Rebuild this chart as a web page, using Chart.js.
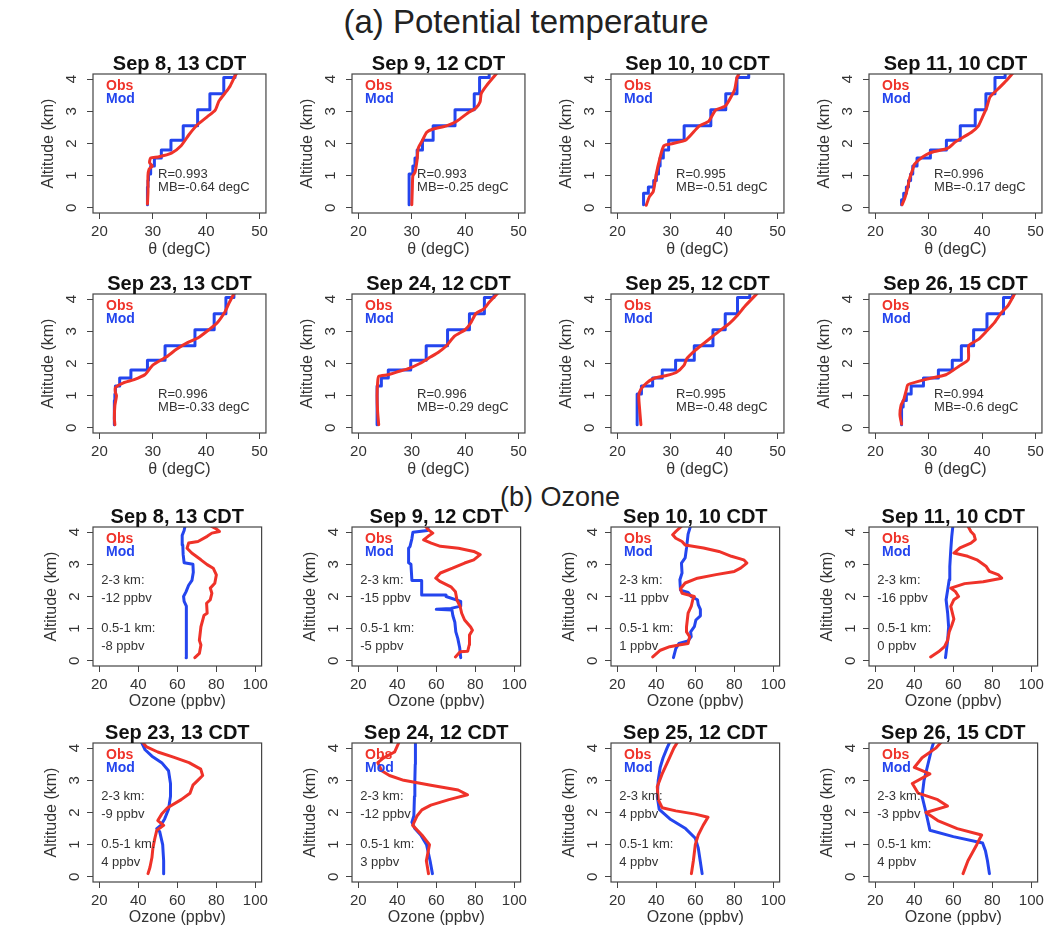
<!DOCTYPE html>
<html>
<head>
<meta charset="utf-8">
<script src="https://cdn.jsdelivr.net/npm/chart.js@4.4.0/dist/chart.umd.min.js"></script>
<style>
  body { margin: 0; background: #fff; }
  #page { position: relative; width: 1049px; height: 927px; overflow: hidden; font-family: "Liberation Sans", Arial, sans-serif; }
  .sect { position: absolute; color: #222; white-space: nowrap; transform: translate(-50%, -50%); }
  canvas { position: absolute; }
</style>
</head>
<body>
<div id="page">
  <div class="sect" style="left:526px; top:22px; font-size:33px">(a) Potential temperature</div>
  <div class="sect" style="left:560px; top:497px; font-size:27px">(b) Ozone</div>
</div>
<script>
// axis ticks
const thetaTicks = [20, 30, 40, 50];
const ozoneTicks = [20, 40, 60, 80, 100];
const altTicks = [0, 1, 2, 3, 4];

// model layer edges (km) for the theta profiles, last one is above the plot top
const modelEdges = [0.1, 0.25, 0.45, 0.65, 0.85, 1.05, 1.3, 1.55, 1.8, 2.1, 2.55, 3.05, 3.55, 4.05, 4.3];

// panel titles
const thetaTitles = ["Sep 8, 13 CDT", "Sep 9, 12 CDT", "Sep 10, 10 CDT", "Sep 11, 10 CDT",
                     "Sep 23, 13 CDT", "Sep 24, 12 CDT", "Sep 25, 12 CDT", "Sep 26, 15 CDT"];
const ozoneTitles = thetaTitles;

// theta stats text
const thetaR = ["R=0.993", "R=0.993", "R=0.995", "R=0.996", "R=0.996", "R=0.996", "R=0.995", "R=0.994"];
const thetaMB = ["MB=-0.64 degC", "MB=-0.25 degC", "MB=-0.51 degC", "MB=-0.17 degC",
                 "MB=-0.33 degC", "MB=-0.29 degC", "MB=-0.48 degC", "MB=-0.6 degC"];

// ozone layer biases
const ozBias23 = ["-12 ppbv", "-15 ppbv", "-11 ppbv", "-16 ppbv", "-9 ppbv", "-12 ppbv", "4 ppbv", "-3 ppbv"];
const ozBias051 = ["-8 ppbv", "-5 ppbv", "1 ppbv", "0 ppbv", "4 ppbv", "3 ppbv", "4 ppbv", "4 ppbv"];

// theta obs profiles [degC, km]
const thObs08 = [[29.0,0.12],[29.1,0.5],[29.1,1.0],[29.3,1.2],[29.9,1.3],[29.4,1.4],[29.6,1.55],[31.0,1.58],[33.5,1.7],[35.3,1.93],[36.8,2.28],[38.4,2.59],[40.2,2.83],[41.7,3.04],[42.4,3.32],[43.6,3.58],[44.5,3.79],[45.4,4.1],[45.8,4.2]];
const thObs09 = [[30.0,0.1],[30.1,0.6],[30.2,1.0],[30.6,1.1],[31.0,1.5],[31.2,1.85],[32.0,2.1],[32.8,2.35],[34.0,2.45],[36.5,2.55],[38.5,2.7],[40.5,2.95],[42.0,3.1],[42.8,3.3],[43.0,3.55],[44.0,3.8],[45.6,4.12],[46.0,4.2]];
const thObs10 = [[25.4,0.08],[26.0,0.35],[26.7,0.5],[27.3,1.07],[27.9,1.5],[28.7,1.93],[30.4,2.0],[32.9,2.12],[35.3,2.54],[37.1,2.69],[38.4,3.04],[40.2,3.16],[41.4,3.48],[42.0,3.7],[42.4,4.05],[42.9,4.2]];
const thObs11 = [[25.0,0.1],[25.5,0.3],[26.0,0.6],[26.4,0.9],[27.0,1.2],[27.3,1.35],[28.2,1.5],[29.5,1.65],[31.0,1.75],[33.5,1.85],[35.0,2.05],[36.5,2.2],[38.0,2.35],[39.3,2.55],[40.0,2.8],[40.8,3.1],[41.5,3.45],[43.0,3.7],[44.5,3.95],[45.8,4.2]];
const thObs23 = [[22.9,0.1],[22.8,0.3],[22.9,0.7],[23.2,1.0],[23.0,1.1],[23.0,1.25],[24.5,1.4],[26.5,1.5],[28.5,1.65],[30.0,1.95],[32.5,2.2],[34.5,2.45],[36.5,2.65],[38.5,2.8],[40.5,3.05],[42.0,3.25],[43.5,3.6],[44.2,3.85],[45.3,4.2]];
const thObs24 = [[23.8,0.1],[23.6,0.5],[23.5,1.0],[23.6,1.4],[23.8,1.6],[25.5,1.65],[27.5,1.75],[29.5,1.85],[31.5,2.0],[33.5,2.2],[35.0,2.35],[36.5,2.55],[38.0,2.85],[40.0,3.05],[41.0,3.25],[42.0,3.55],[43.5,3.7],[44.5,3.9],[46.2,4.2]];
const thObs25 = [[24.4,0.1],[24.2,0.5],[24.0,1.0],[24.4,1.2],[25.5,1.4],[27.0,1.55],[29.0,1.62],[31.0,1.72],[32.5,1.95],[33.0,2.15],[34.5,2.4],[36.0,2.6],[37.5,2.8],[39.0,3.0],[41.0,3.25],[42.5,3.5],[44.0,3.8],[46.3,4.2]];
const thObs26 = [[24.9,0.12],[24.6,0.4],[24.8,0.7],[25.3,0.87],[25.8,1.18],[26.1,1.34],[29.5,1.51],[33.2,1.65],[35.6,1.91],[37.4,2.12],[37.5,2.56],[39.3,2.75],[40.8,3.0],[42.3,3.27],[43.6,3.58],[44.8,3.79],[46.2,4.2]];

// theta model layer values (one per layer of modelEdges)
const thMod08 = [29.0, 29.0, 29.0, 29.1, 29.2, 29.6, 30.3, 31.6, 33.4, 35.7, 38.4, 40.7, 43.3, 45.4];
const thMod09 = [29.5, 29.5, 29.5, 29.5, 29.5, 30.2, 30.6, 31.0, 32.0, 34.0, 38.1, 41.7, 42.7, 44.5];
const thMod10 = [24.9, 24.9, 25.8, 26.8, 27.3, 27.7, 28.0, 28.6, 29.6, 32.5, 37.5, 40.3, 42.4, 44.6];
const thMod11 = [24.9, 25.3, 25.8, 26.2, 26.6, 27.0, 27.8, 30.3, 33.3, 35.9, 38.7, 40.7, 42.4, 44.3];
const thMod23 = [22.8, 22.8, 22.8, 22.8, 22.9, 23.0, 23.8, 25.9, 29.0, 32.3, 37.9, 41.5, 43.7, 45.2];
const thMod24 = [23.5, 23.5, 23.5, 23.5, 23.5, 23.5, 24.3, 25.6, 29.8, 32.7, 36.7, 40.8, 43.6, 45.4];
const thMod25 = [23.7, 23.7, 23.7, 23.7, 23.7, 24.5, 26.6, 28.4, 30.9, 34.4, 37.9, 40.2, 42.5, 44.8];
const thMod26 = [24.9, 24.9, 24.9, 25.2, 25.8, 26.7, 29.0, 31.8, 34.4, 36.1, 38.4, 40.9, 44.0, 45.7];

// ozone obs profiles [ppbv, km]
const ozObs08 = [[69.0,0.1],[71.3,0.23],[72.1,0.49],[71.3,0.64],[72.1,1.06],[73.7,1.42],[75.3,1.48],[75.0,1.79],[76.9,1.9],[77.7,2.1],[76.9,2.26],[79.2,2.41],[80.0,2.67],[78.4,2.88],[75.3,2.99],[72.1,3.14],[67.4,3.35],[65.0,3.5],[65.8,3.66],[70.6,3.71],[75.3,3.87],[77.7,3.97],[81.6,4.02],[80.0,4.1],[76.9,4.2]];
const ozObs09 = [[69.8,0.12],[72.2,0.28],[76.1,0.3],[76.9,0.5],[77.0,0.8],[78.5,0.95],[77.6,1.05],[74.5,1.27],[73.0,1.48],[72.2,1.69],[70.6,1.89],[69.8,2.15],[67.5,2.3],[62.1,2.46],[59.7,2.57],[62.1,2.73],[68.3,2.88],[74.5,3.04],[79.2,3.14],[82.5,3.3],[79.2,3.4],[71.4,3.5],[62.1,3.56],[57.4,3.66],[53.5,3.76],[55.8,3.87],[58.2,3.97],[55.8,4.08],[54.3,4.2]];
const ozObs10 = [[38.2,0.12],[42.1,0.33],[46.9,0.44],[51.6,0.49],[56.3,0.54],[57.1,0.75],[55.5,0.9],[55.5,1.06],[56.3,1.48],[57.9,1.69],[58.7,1.9],[59.5,2.0],[53.2,2.1],[52.4,2.24],[54.8,2.42],[61.1,2.57],[70.6,2.68],[80.0,2.78],[83.2,2.88],[86.4,3.04],[84.8,3.14],[78.5,3.25],[72.1,3.4],[64.2,3.51],[54.8,3.6],[53.2,3.71],[50.0,3.81],[48.4,3.92],[50.0,4.02],[53.2,4.2]];
const ozObs11 = [[48.4,0.12],[52.4,0.28],[55.5,0.44],[57.1,0.64],[57.9,0.9],[59.2,1.1],[60.3,1.3],[58.7,1.69],[60.3,1.9],[62.7,2.0],[61.1,2.15],[58.7,2.26],[65.8,2.4],[75.3,2.46],[84.8,2.57],[83.2,2.67],[78.5,2.78],[76.9,2.93],[72.1,3.14],[67.4,3.25],[60.3,3.35],[63.4,3.51],[69.0,3.66],[71.3,3.77],[70.6,3.92],[69.0,4.02],[67.4,4.2]];
const ozObs23 = [[45.0,0.1],[46.0,0.3],[47.0,0.6],[47.5,0.9],[48.5,1.2],[49.5,1.45],[53.0,1.6],[50.0,1.75],[52.0,1.95],[55.0,2.15],[62.0,2.4],[66.5,2.6],[68.0,2.85],[70.5,3.0],[73.0,3.15],[72.0,3.35],[66.0,3.55],[58.0,3.72],[50.0,3.88],[44.0,4.05],[42.0,4.2]];
const ozObs24 = [[56.0,0.1],[54.9,0.5],[56.5,1.0],[52.6,1.3],[47.9,1.6],[50.2,1.9],[52.6,2.08],[57.2,2.23],[66.5,2.4],[76.0,2.55],[71.2,2.7],[57.2,2.85],[43.3,3.0],[36.0,3.15],[32.0,3.3],[30.0,3.55],[33.0,3.7],[38.6,3.88],[41.0,4.2]];
const ozObs25 = [[58.0,0.1],[59.0,0.5],[60.0,1.0],[61.5,1.3],[64.0,1.6],[66.5,1.85],[60.0,1.95],[50.0,2.05],[43.0,2.15],[41.0,2.4],[40.5,2.8],[43.0,3.2],[46.0,3.6],[49.0,4.0],[51.0,4.2]];
const ozObs26 = [[65,0.1],[67.5,0.5],[72,1.0],[74.5,1.3],[62,1.5],[52,1.75],[46,2.0],[57,2.2],[52,2.4],[42,2.6],[39,2.9],[48,3.2],[40,3.4],[44,3.7],[51,4.0],[54,4.2]];

// ozone model profiles [ppbv, km]
const ozMod08 = [[64.5,0.1],[64.6,0.6],[64.8,1.2],[64.5,1.7],[63.5,1.85],[63.2,2.0],[64.5,2.15],[65.8,2.35],[67.5,2.5],[68.2,2.75],[68.0,3.0],[63.5,3.05],[63.0,3.3],[62.8,3.6],[62.5,3.9],[63.5,4.05],[64.0,4.2]];
const ozMod09 = [[72.5,0.1],[72.0,0.4],[71.0,0.7],[70.0,0.9],[69.5,1.2],[68.5,1.4],[68.0,1.58],[60.0,1.6],[67.5,1.63],[72.5,1.7],[72.5,1.85],[65.0,2.0],[65.0,2.05],[52.5,2.05],[52.5,2.5],[47.5,2.5],[47.0,3.0],[45.8,3.05],[45.8,3.5],[46.5,3.55],[47.5,3.8],[48.0,4.0],[55.5,4.05],[56.0,4.2]];
const ozMod10 = [[48.8,0.1],[50.0,0.38],[51.6,0.54],[56.3,0.62],[57.9,0.75],[57.6,0.9],[59.5,1.06],[60.3,1.27],[62.6,1.4],[62.6,1.6],[61.5,1.75],[61.1,1.9],[57.9,2.0],[56.3,2.13],[52.4,2.2],[52.1,2.52],[53.2,2.73],[52.9,3.04],[54.8,3.2],[55.5,3.51],[56.3,3.94],[57.6,4.2]];
const ozMod11 = [[56.0,0.1],[57.1,0.64],[57.6,1.06],[57.1,1.48],[56.3,1.9],[57.1,2.2],[57.9,2.52],[58.2,2.93],[58.7,3.45],[59.2,3.87],[59.8,4.2]];
const ozMod23 = [[53.0,0.1],[53.0,0.5],[52.5,1.0],[51.0,1.4],[49.5,1.5],[51.5,1.6],[53.5,1.8],[55.5,2.1],[56.5,2.5],[56.5,2.9],[55.5,3.3],[52.0,3.55],[47.0,3.75],[43.5,3.95],[41.5,4.2]];
const ozMod24 = [[58.0,0.1],[56.8,0.5],[55.0,1.0],[52.0,1.3],[49.0,1.5],[47.5,1.7],[48.5,1.9],[48.8,2.5],[49.0,3.0],[49.2,3.5],[49.3,4.2]];
const ozMod25 = [[63.5,0.1],[62.5,0.5],[61.5,0.9],[60.0,1.2],[55.0,1.5],[47.0,1.8],[41.5,2.1],[40.5,2.5],[41.0,3.0],[42.0,3.4],[43.5,3.7],[45.5,4.0],[47.0,4.2]];
const ozMod26 = [[78.5,0.1],[77.5,0.5],[76.5,0.8],[75,1.05],[60,1.25],[48,1.45],[46,2.0],[44,2.5],[45,3.0],[47,3.5],[49,4.0],[50,4.2]];

const thetaObs = [thObs08, thObs09, thObs10, thObs11, thObs23, thObs24, thObs25, thObs26];
const thetaMod = [thMod08, thMod09, thMod10, thMod11, thMod23, thMod24, thMod25, thMod26];
const ozoneObs = [ozObs08, ozObs09, ozObs10, ozObs11, ozObs23, ozObs24, ozObs25, ozObs26];
const ozoneMod = [ozMod08, ozMod09, ozMod10, ozMod11, ozMod23, ozMod24, ozMod25, ozMod26];

// layout
const FAM = '"Liberation Sans", Arial, Helvetica, sans-serif';
const RED = '#ef3229';
const BLUE = '#2445ee';
const colLeft = [0, 259, 518, 776];
const rowTop = [45, 265, 498, 714];
const CW = 272, CH = 213;
const padL = 93, padR = 3, padT = 29, padB = 45;

const page = document.getElementById("page");

// draws box, rotated y labels, titles and in-plot text, R-style
const decor = {
  id: "decor",
  afterDraw(chart) {
    const o = chart.options.plugins.decor;
    const { ctx, chartArea: a, scales: { x, y } } = chart;
    ctx.save();
    ctx.strokeStyle = "#444";
    ctx.lineWidth = 1.2;
    ctx.strokeRect(a.left, a.top, a.right - a.left, a.bottom - a.top);

    ctx.fillStyle = "#333";
    ctx.font = "15px " + FAM;
    ctx.textAlign = "center";
    ctx.textBaseline = "middle";
    altTicks.forEach(v => {
      ctx.save();
      ctx.translate(a.left - o.tickOff, y.getPixelForValue(v));
      ctx.rotate(-Math.PI / 2);
      ctx.fillText(String(v), 0, 0);
      ctx.restore();
    });
    // axis titles
    ctx.font = "16px " + FAM;
    ctx.save();
    ctx.translate(a.left - o.titleOff, (a.top + a.bottom) / 2);
    ctx.rotate(-Math.PI / 2);
    ctx.fillText("Altitude (km)", 0, 0);
    ctx.restore();
    ctx.textBaseline = "alphabetic";
    ctx.fillText(o.xTitle, (a.left + a.right) / 2, a.bottom + o.xTitleOff);

    // panel title
    ctx.fillStyle = "#111";
    ctx.font = "bold 20px " + FAM;
    ctx.fillText(o.title, (a.left + a.right) / 2, a.top - 4);

    // legend
    ctx.textAlign = "left";
    ctx.font = "bold 14px " + FAM;
    ctx.fillStyle = RED;
    ctx.fillText("Obs", a.left + 13, a.top + 16);
    ctx.fillStyle = BLUE;
    ctx.fillText("Mod", a.left + 13, a.top + 29);

    // notes at data positions
    ctx.fillStyle = "#333";
    ctx.font = "13px " + FAM;
    ctx.textBaseline = "middle";
    o.notes.forEach(n => ctx.fillText(n[0], x.getPixelForValue(n[1]), y.getPixelForValue(n[2])));
    ctx.restore();
  }
};

function makePanel(row, col, cfg) {
  const cv = document.createElement("canvas");
  cv.width = CW;
  cv.height = CH;
  cv.style.left = colLeft[col] + "px";
  cv.style.top = rowTop[row] + "px";
  page.appendChild(cv);

  const tickGrid = { display: true, drawOnChartArea: false, drawTicks: true, tickLength: 6, color: "#444", tickColor: "#444" };

  new Chart(cv, {
    type: "line",
    data: {
      datasets: [{
        data: cfg.obs,
        borderColor: RED,
        borderWidth: 3,
        pointRadius: 0,
        tension: cfg.tension,
        borderJoinStyle: "round",
        borderCapStyle: "round",
        order: 0
      }, {
        data: cfg.mod,
        borderColor: BLUE,
        borderWidth: 3,
        pointRadius: 0,
        stepped: cfg.stepped,
        borderJoinStyle: "round",
        borderCapStyle: "round",
        order: 1
      }]
    },
    options: {
      responsive: false,
      animation: false,
      devicePixelRatio: 1,
      layout: { padding: { top: padT, right: padR, left: 0, bottom: 0 } },
      plugins: {
        legend: { display: false },
        tooltip: { enabled: false },
        decor: cfg.decor
      },
      scales: {
        x: {
          type: "linear",
          min: cfg.xmin,
          max: cfg.xmax,
          afterBuildTicks: s => { s.ticks = cfg.xticks.map(v => ({ value: v })); },
          afterFit: s => { s.height = padB; },
          grid: tickGrid,
          border: { display: false },
          ticks: { color: "#333", font: { size: 15, family: FAM }, padding: 4, maxRotation: 0, autoSkip: false }
        },
        y: {
          type: "linear",
          min: -0.16,
          max: 4.16,
          afterBuildTicks: s => { s.ticks = altTicks.map(v => ({ value: v })); },
          afterFit: s => { s.width = padL; },
          grid: tickGrid,
          border: { display: false },
          ticks: { display: false }
        }
      }
    },
    plugins: [decor]
  });
}

// theta panels
for (let i = 0; i < 8; i++) {
  const mod = thetaMod[i].map((v, k) => ({ x: v, y: modelEdges[k] }));
  mod.push({ x: thetaMod[i][thetaMod[i].length - 1], y: modelEdges[modelEdges.length - 1] });
  makePanel(Math.floor(i / 4), i % 4, {
    obs: thetaObs[i].map(p => ({ x: p[0], y: p[1] })),
    mod: mod,
    stepped: "after",
    tension: 0.2,
    xmin: 18.8, xmax: 51.2, xticks: thetaTicks,
    decor: {
      title: thetaTitles[i], xTitle: "\u03b8 (degC)", tickOff: 21, titleOff: 44, xTitleOff: 41,
      notes: [[thetaR[i], 31, 1.03], [thetaMB[i], 31, 0.62]]
    }
  });
}

// ozone panels
for (let i = 0; i < 8; i++) {
  makePanel(2 + Math.floor(i / 4), i % 4, {
    obs: ozoneObs[i].map(p => ({ x: p[0], y: p[1] })),
    mod: ozoneMod[i].map(p => ({ x: p[0], y: p[1] })),
    stepped: false,
    tension: 0,
    xmin: 16.8, xmax: 103.2, xticks: ozoneTicks,
    decor: {
      title: ozoneTitles[i], xTitle: "Ozone (ppbv)", tickOff: 18, titleOff: 41, xTitleOff: 40,
      notes: [["2-3 km:", 21, 2.5], [ozBias23[i], 21, 1.95], ["0.5-1 km:", 21, 1.0], [ozBias051[i], 21, 0.45]]
    }
  });
}
</script>
</body>
</html>
